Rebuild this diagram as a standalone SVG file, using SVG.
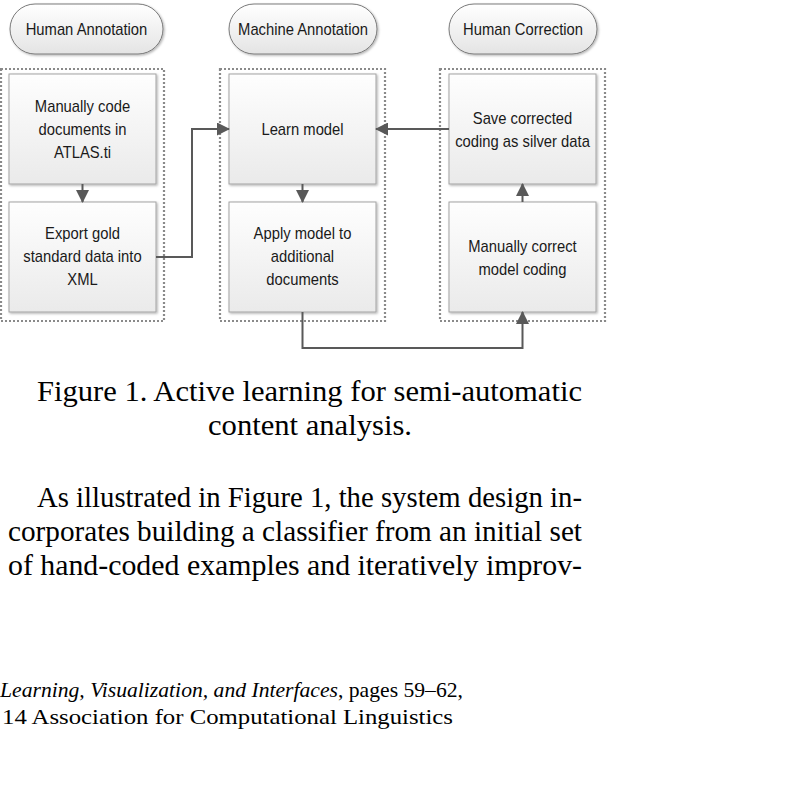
<svg xmlns="http://www.w3.org/2000/svg" width="810" height="785" viewBox="0 0 810 785">
<style>
.pill{fill:url(#gPill);stroke:#7a7a7a;stroke-width:1;filter:url(#sh)}
.box{fill:url(#gBox);stroke:#a3a3a3;stroke-width:1;filter:url(#sh)}
.lane{fill:none;stroke:#8a8a8a;stroke-width:2.2;stroke-dasharray:2 2}
.lbl{font-family:"Liberation Sans",Arial,sans-serif;font-size:17px;fill:#1a1a1a;text-anchor:middle}
.conn{fill:none;stroke:#595959;stroke-width:2;marker-end:url(#arr)}
.cap{font-family:"Liberation Serif","Times New Roman",serif;font-size:28.5px;fill:#000}
.foot{font-family:"Liberation Serif","Times New Roman",serif;font-size:21px;fill:#000}
</style>
<defs>
<linearGradient id="gPill" x1="0" y1="0" x2="0" y2="1"><stop offset="0" stop-color="#ffffff"/><stop offset="1" stop-color="#e4e4e4"/></linearGradient>
<linearGradient id="gBox" x1="0" y1="0" x2="0" y2="1"><stop offset="0" stop-color="#fefefe"/><stop offset="1" stop-color="#eaeaea"/></linearGradient>
<filter id="sh" x="-10%" y="-10%" width="120%" height="120%"><feDropShadow dx="1.2" dy="1.2" stdDeviation="0.8" flood-color="#000" flood-opacity="0.3"/></filter>
<marker id="arr" viewBox="0 0 13 13" refX="12" refY="6.5" markerWidth="13" markerHeight="13" markerUnits="userSpaceOnUse" orient="auto"><path d="M0,0 L13,6.5 L0,13 z" fill="#595959"/></marker>
</defs>
<rect width="810" height="785" fill="#fff"/>

<g id="lanes">
<rect class="lane" x="1" y="69" width="163" height="252"/>
<rect class="lane" x="220" y="69" width="165" height="252"/>
<rect class="lane" x="440" y="69" width="165" height="252"/>
</g>

<g id="hdr-human-annotation"><rect class="pill" x="10" y="4" width="153" height="50" rx="25"/><text class="lbl" transform="translate(86.5,35) scale(0.87,1)">Human Annotation</text></g>
<g id="hdr-machine-annotation"><rect class="pill" x="229" y="4" width="148" height="50" rx="25"/><text class="lbl" transform="translate(303,35) scale(0.87,1)">Machine Annotation</text></g>
<g id="hdr-human-correction"><rect class="pill" x="449" y="4" width="148" height="50" rx="25"/><text class="lbl" transform="translate(523,35) scale(0.87,1)">Human Correction</text></g>

<g id="n-manual-code"><rect class="box" x="9" y="74" width="147" height="110"/>
<text class="lbl" transform="translate(82.5,112) scale(0.87,1)">Manually code</text>
<text class="lbl" transform="translate(82.5,135) scale(0.87,1)">documents in</text>
<text class="lbl" transform="translate(82.5,158) scale(0.87,1)">ATLAS.ti</text></g>

<g id="n-export"><rect class="box" x="9" y="202" width="147" height="110"/>
<text class="lbl" transform="translate(82.5,239) scale(0.87,1)">Export gold</text>
<text class="lbl" transform="translate(82.5,262) scale(0.87,1)">standard data into</text>
<text class="lbl" transform="translate(82.5,285) scale(0.87,1)">XML</text></g>

<g id="n-learn"><rect class="box" x="229" y="74" width="147" height="110"/>
<text class="lbl" transform="translate(302.5,135) scale(0.87,1)">Learn model</text></g>

<g id="n-apply"><rect class="box" x="229" y="202" width="147" height="110"/>
<text class="lbl" transform="translate(302.5,239) scale(0.87,1)">Apply model to</text>
<text class="lbl" transform="translate(302.5,262) scale(0.87,1)">additional</text>
<text class="lbl" transform="translate(302.5,285) scale(0.87,1)">documents</text></g>

<g id="n-save"><rect class="box" x="449" y="74" width="147" height="110"/>
<text class="lbl" transform="translate(522.5,124) scale(0.87,1)">Save corrected</text>
<text class="lbl" transform="translate(522.5,147) scale(0.87,1)">coding as silver data</text></g>

<g id="n-correct"><rect class="box" x="449" y="202" width="147" height="110"/>
<text class="lbl" transform="translate(522.5,252) scale(0.87,1)">Manually correct</text>
<text class="lbl" transform="translate(522.5,275) scale(0.87,1)">model coding</text></g>

<g id="connectors">
<path class="conn" d="M82.5,184 V202"/>
<path class="conn" d="M156,257 H192 V129 H229"/>
<path class="conn" d="M302.5,184 V202"/>
<path class="conn" d="M449,129 H376"/>
<path class="conn" d="M302.5,312 V348 H522.5 V312"/>
<path class="conn" d="M522.5,202 V184"/>
</g>

<g id="caption">
<text class="cap" x="37" y="401" textLength="545" lengthAdjust="spacingAndGlyphs">Figure 1. Active learning for semi-automatic</text>
<text class="cap" x="208" y="435" textLength="204" lengthAdjust="spacingAndGlyphs">content analysis.</text>
</g>
<g id="body">
<text class="cap" x="37" y="507" textLength="545" lengthAdjust="spacingAndGlyphs">As illustrated in Figure 1, the system design in-</text>
<text class="cap" x="8" y="541" textLength="574" lengthAdjust="spacingAndGlyphs">corporates building a classifier from an initial set</text>
<text class="cap" x="8" y="575" textLength="574" lengthAdjust="spacingAndGlyphs">of hand-coded examples and iteratively improv-</text>
</g>
<g id="footer">
<text class="foot" x="0" y="697" textLength="463" lengthAdjust="spacingAndGlyphs"><tspan font-style="italic">Learning, Visualization, and Interfaces</tspan>, pages 59–62,</text>
<text class="foot" x="2" y="724" textLength="451" lengthAdjust="spacingAndGlyphs">14 Association for Computational Linguistics</text>
</g>
</svg>
